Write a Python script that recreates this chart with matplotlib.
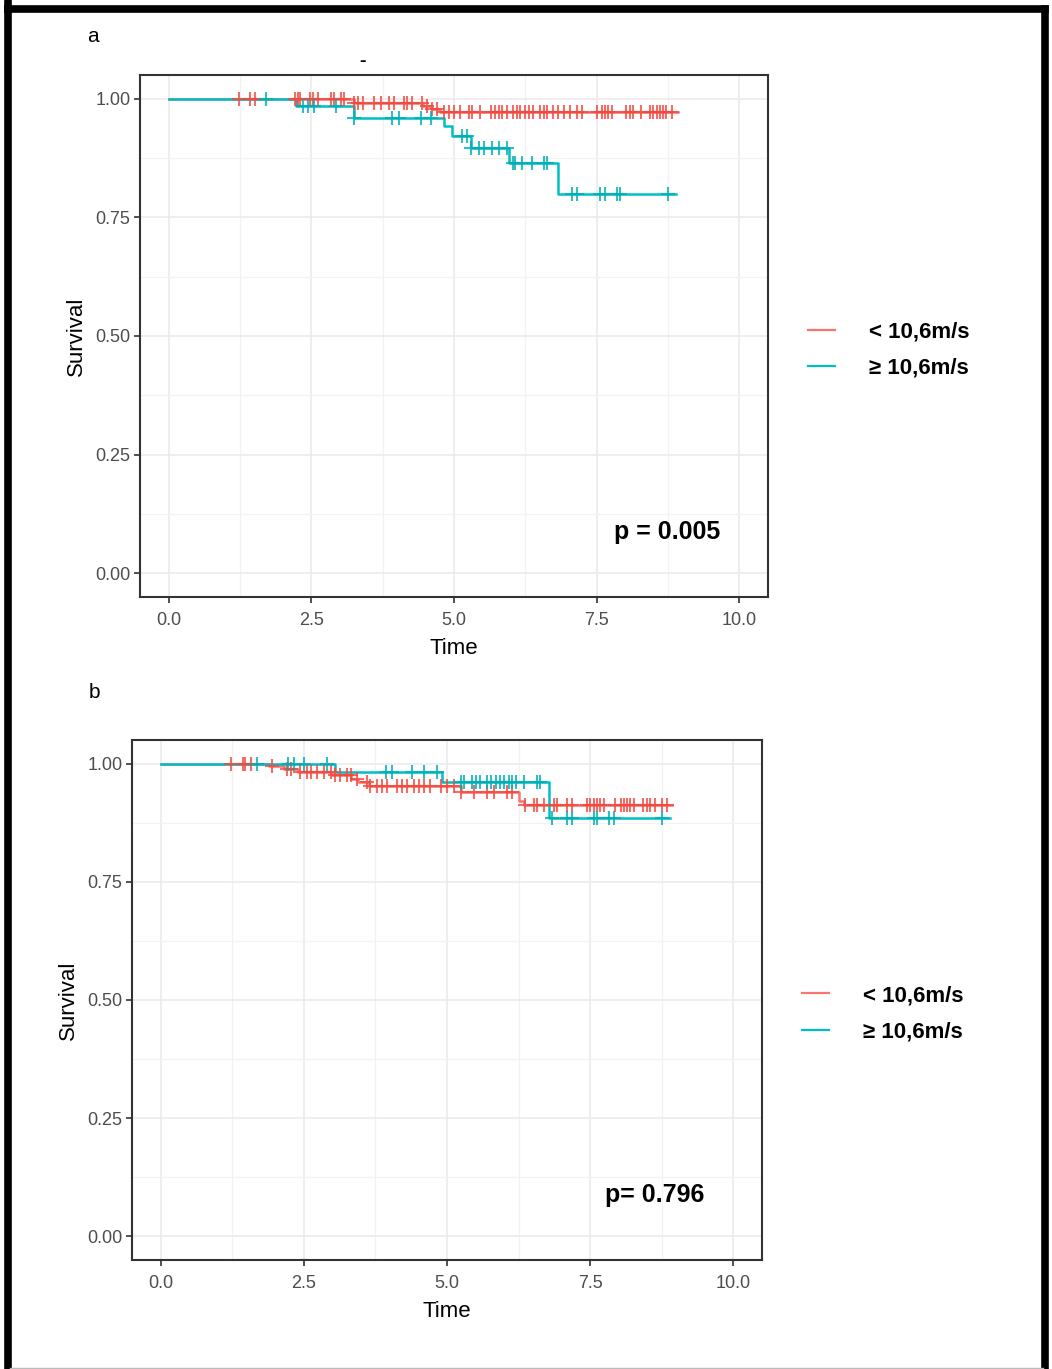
import numpy as np
import matplotlib.pyplot as plt
from matplotlib.lines import Line2D

# 字体
NARROW = ['Liberation Sans Narrow', 'Liberation Sans', 'DejaVu Sans']
BOLD = ['Liberation Sans', 'DejaVu Sans']
plt.rcParams['font.family'] = NARROW

RED = '#F8766D'
CYAN = '#00BFC4'
labels = ['< 10,6m/s', '\u2265 10,6m/s']

# ---- panel a: step curves (time, survival) ----
a_red_t = [0.0, 3.25, 4.45, 4.62, 4.75]
a_red_s = [1.0, 0.992, 0.985, 0.978, 0.972]
a_red_end = 8.92
a_red_cens = [1.24, 1.42, 1.51, 2.22, 2.26, 2.30, 2.47, 2.53, 2.61, 2.85, 2.90, 3.02, 3.08,
              3.25, 3.31, 3.40, 3.60, 3.72, 3.86, 3.95, 4.12, 4.18, 4.27, 4.44, 4.53, 4.62,
              4.71, 4.82, 4.91, 5.00, 5.11, 5.26, 5.32, 5.46, 5.64, 5.72, 5.78, 5.84, 5.93,
              6.04, 6.10, 6.16, 6.25, 6.31, 6.39, 6.51, 6.57, 6.63, 6.74, 6.83, 6.92, 7.03,
              7.15, 7.24, 7.50, 7.59, 7.64, 7.70, 7.76, 8.02, 8.08, 8.13, 8.28, 8.43, 8.49,
              8.55, 8.60, 8.66, 8.72, 8.81]

a_cyan_t = [0.0, 2.23, 3.25, 4.82, 4.97, 5.29, 5.96, 6.83]
a_cyan_s = [1.0, 0.985, 0.960, 0.942, 0.921, 0.896, 0.865, 0.800]
a_cyan_end = 8.88
a_cyan_cens = [1.71, 2.35, 2.44, 2.55, 2.93, 3.25, 3.92, 4.04, 4.42, 4.59, 5.14, 5.23, 5.29,
               5.43, 5.52, 5.67, 5.78, 5.93, 6.04, 6.07, 6.19, 6.36, 6.57, 6.63, 7.06, 7.15,
               7.56, 7.64, 7.85, 7.90, 8.75]

# ---- panel b ----
b_red_t = [0.0, 1.90, 2.15, 2.40, 3.00, 3.33, 3.45, 3.63, 5.24, 6.25, 6.34]
b_red_s = [1.0, 0.995, 0.989, 0.982, 0.976, 0.968, 0.961, 0.952, 0.940, 0.922, 0.912]
b_red_end = 8.93
b_red_cens = [1.22, 1.43, 1.48, 1.57, 1.95, 2.21, 2.27, 2.44, 2.56, 2.62, 2.73, 2.85, 2.97,
              3.05, 3.14, 3.26, 3.32, 3.43, 3.61, 3.66, 3.78, 3.87, 3.96, 4.13, 4.22, 4.30,
              4.42, 4.51, 4.60, 4.71, 4.89, 5.00, 5.12, 5.24, 5.47, 5.70, 5.82, 6.05, 6.14,
              6.37, 6.52, 6.57, 6.69, 6.86, 6.92, 7.10, 7.19, 7.45, 7.50, 7.56, 7.62, 7.68,
              7.74, 7.94, 8.03, 8.09, 8.14, 8.20, 8.26, 8.43, 8.49, 8.55, 8.64, 8.75, 8.84]

b_cyan_t = [0.0, 3.05, 4.92, 6.78]
b_cyan_s = [1.0, 0.982, 0.961, 0.884]
b_cyan_end = 8.90
b_cyan_cens = [1.69, 2.22, 2.33, 2.50, 2.91, 3.93, 4.04, 4.39, 4.60, 4.83, 5.24, 5.29, 5.44,
               5.50, 5.58, 5.70, 5.76, 5.85, 5.93, 5.99, 6.08, 6.14, 6.20, 6.34, 6.57, 6.63,
               6.84, 7.10, 7.19, 7.56, 7.62, 7.82, 7.91, 8.75]

p_a = 'p = 0.005'
p_b = 'p= 0.796'


def surv_at(ts, ss, t):
    idx = np.searchsorted(ts, t, side='right') - 1
    return np.array(ss)[idx]


def km_panel(ax, curves, ptext, px):
    ax.set_xlim(-0.5, 10.5)
    ax.set_ylim(-0.05, 1.05)
    ax.set_xticks([0, 2.5, 5, 7.5, 10])
    ax.set_xticklabels(['0.0', '2.5', '5.0', '7.5', '10.0'])
    ax.set_yticks([0, 0.25, 0.5, 0.75, 1.0])
    ax.set_yticklabels(['0.00', '0.25', '0.50', '0.75', '1.00'])
    ax.set_xticks(np.arange(1.25, 10, 2.5), minor=True)
    ax.set_yticks(np.arange(0.125, 1, 0.25), minor=True)
    ax.grid(True, which='major', color='#EBEBEB', lw=1.2)
    ax.grid(True, which='minor', color='#F2F2F2', lw=0.9)
    ax.set_axisbelow(True)
    ax.tick_params(which='minor', length=0)
    ax.tick_params(axis='x', which='major', pad=7)
    ax.tick_params(axis='y', which='major', pad=3)
    ax.tick_params(which='major', length=4, width=1.2, color='#333333',
                   labelsize=13, labelcolor='#4D4D4D')
    for sp in ax.spines.values():
        sp.set_color('#333333')
        sp.set_linewidth(1.5)
    for ts, ss, tend, cens, col, mcol in curves:
        ax.step(list(ts) + [tend], list(ss) + [ss[-1]], where='post', color=col, lw=1.8, zorder=3)
        ax.plot(cens, surv_at(ts, ss, cens), ls='none', marker='+', ms=10, mew=1.5,
                color=mcol, alpha=0.8, zorder=4)
    ax.set_xlabel('Time', fontsize=16, labelpad=6)
    ax.set_ylabel('Survival', fontsize=16, labelpad=6)
    ax.text(px, 0.125, ptext, transform=ax.transAxes, ha='center', va='center',
            fontsize=18, fontweight='bold', family=BOLD)
    handles = [Line2D([], [], color=RED, lw=1.6), Line2D([], [], color=CYAN, lw=1.6)]
    ax.legend(handles, labels, loc='center left', bbox_to_anchor=(1.063, 0.473),
              frameon=False, borderaxespad=0, borderpad=0, handlelength=1.25,
              handletextpad=1.5, labelspacing=0.7,
              prop={'family': BOLD, 'weight': 'bold', 'size': 16})


fig = plt.figure(figsize=(10.52, 13.69), dpi=100)

ax1 = fig.add_axes([140 / 1052, 1 - 597 / 1369, 628 / 1052, 522 / 1369])
km_panel(ax1, [(a_red_t, a_red_s, a_red_end, a_red_cens, RED, '#F04A40'),
               (a_cyan_t, a_cyan_s, a_cyan_end, a_cyan_cens, CYAN, '#00AEB4')], p_a, 0.839)

ax2 = fig.add_axes([132 / 1052, 1 - 1260 / 1369, 630 / 1052, 520 / 1369])
km_panel(ax2, [(b_red_t, b_red_s, b_red_end, b_red_cens, RED, '#F04A40'),
               (b_cyan_t, b_cyan_s, b_cyan_end, b_cyan_cens, CYAN, '#00AEB4')], p_b, 0.83)

fig.text(93 / 1052, 1 - 37 / 1369, 'a', fontsize=15, ha='center', va='center')
fig.text(94 / 1052, 1 - 692 / 1369, 'b', fontsize=15, ha='center', va='center')
fig.text(363 / 1052, 1 - 62 / 1369, '-', fontsize=14, fontweight='bold', ha='center', va='center')

# 黑色边框
W, H = 1052, 1369
for xs, ys in [([8, 8], [0, 9]), ([8, 1045], [9, 9]), ([1045, 1045], [9, 1369])]:
    fig.add_artist(Line2D([x / W for x in xs], [1 - y / H for y in ys], color='black',
                          lw=5.5, transform=fig.transFigure))
fig.add_artist(Line2D([8 / W, 8 / W], [1 - 9 / H, 0], color='black', lw=5.5, transform=fig.transFigure))
fig.add_artist(Line2D([10 / W, 1043 / W], [1 / H, 1 / H], color='#BBBBBB', lw=1, transform=fig.transFigure))

plt.savefig('out.png', dpi=100)
